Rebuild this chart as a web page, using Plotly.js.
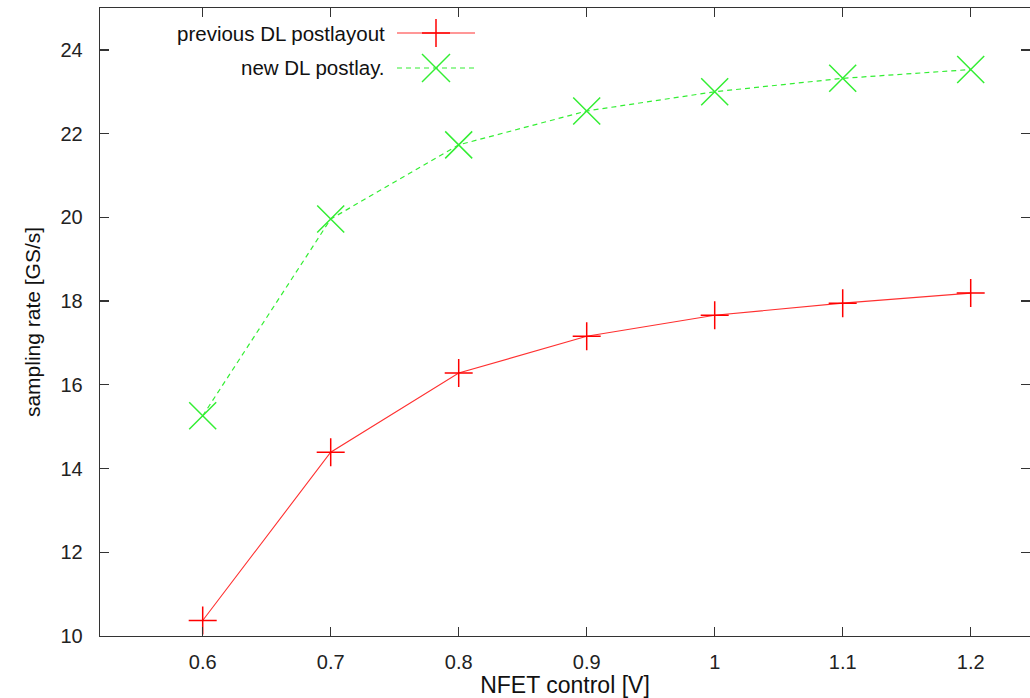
<!DOCTYPE html>
<html>
<head>
<meta charset="utf-8">
<script src="https://cdn.plot.ly/plotly-3.0.1.min.js"></script>
<style>
  html, body { margin: 0; padding: 0; overflow: hidden; background: #fff; }
  #chart { width: 1030px; height: 698px; }
</style>
</head>
<body>
<div id="chart"></div>
<script>
// ---- data ----
const nfetControl = [0.6, 0.7, 0.8, 0.9, 1.0, 1.1, 1.2];
const previousDL = [10.37, 14.39, 16.28, 17.16, 17.66, 17.95, 18.19];
const newDL = [15.26, 19.96, 21.73, 22.54, 23.0, 23.32, 23.53];
const seriesNames = ["previous DL postlayout", "new DL postlay."];
const xTickVals = [0.6, 0.7, 0.8, 0.9, 1.0, 1.1, 1.2];
const xTickText = ["0.6", "0.7", "0.8", "0.9", "1", "1.1", "1.2"];
const yTickVals = [10, 12, 14, 16, 18, 20, 22, 24];

const RED = "#ff0000";
const RED_LINE = "#ff3030";
const GREEN = "#33ee33";
const FONT = "Liberation Sans, Arial, sans-serif";

const traces = [
  {
    x: nfetControl, y: previousDL, name: seriesNames[0], type: "scatter", mode: "lines+markers",
    line: { color: RED_LINE, width: 1.1 },
    marker: { symbol: "cross-thin", size: 20, color: RED, line: { color: RED, width: 1.5 } },
    showlegend: false
  },
  {
    x: nfetControl, y: newDL, name: seriesNames[1], type: "scatter", mode: "lines+markers",
    line: { color: GREEN, width: 1.2, dash: "5px,4px" },
    marker: { symbol: "x-thin", size: 27, color: GREEN, line: { color: GREEN, width: 1.5 } },
    showlegend: false
  }
];

// plot area geometry (px) used for the hand-drawn legend keys
const L = 100, T = 8, B = 62, W = 1030, H = 698;
const pw = W - L, ph = H - T - B;
const px = v => (v - L) / pw;
const py = v => (H - B - v) / ph;

const legendRows = [
  { text: seriesNames[0], y: 33, color: RED, lineColor: RED_LINE, dash: "solid", kind: "cross" },
  { text: seriesNames[1], y: 68, color: GREEN, lineColor: GREEN, dash: "dash", kind: "x" }
];
const annotations = [];
const shapes = [];
legendRows.forEach(r => {
  annotations.push({
    xref: "paper", yref: "paper", x: px(387), y: py(r.y), xanchor: "right", yanchor: "middle",
    text: r.text, showarrow: false, font: { family: FONT, size: 20.5, color: "#111" }
  });
  shapes.push({
    type: "line", xref: "paper", yref: "paper", x0: px(397), x1: px(475), y0: py(r.y), y1: py(r.y),
    line: { color: r.lineColor, width: 1.2, dash: r.dash === "dash" ? "5px,4px" : "solid" }
  });
  const cx = 436, h = 14;
  if (r.kind === "cross") {
    shapes.push({ type: "line", xref: "paper", yref: "paper", x0: px(cx), x1: px(cx), y0: py(r.y - h), y1: py(r.y + h), line: { color: r.color, width: 1.5 } });
    shapes.push({ type: "line", xref: "paper", yref: "paper", x0: px(cx - h), x1: px(cx + h), y0: py(r.y), y1: py(r.y), line: { color: r.color, width: 1.5 } });
  } else {
    shapes.push({ type: "line", xref: "paper", yref: "paper", x0: px(cx - h), x1: px(cx + h), y0: py(r.y - h), y1: py(r.y + h), line: { color: r.color, width: 1.5 } });
    shapes.push({ type: "line", xref: "paper", yref: "paper", x0: px(cx - h), x1: px(cx + h), y0: py(r.y + h), y1: py(r.y - h), line: { color: r.color, width: 1.5 } });
  }
});

const layout = {
  width: W, height: H,
  margin: { l: L, r: 0, t: T, b: B, pad: 0 },
  paper_bgcolor: "#fff", plot_bgcolor: "#fff",
  font: { family: FONT, size: 18, color: "#222" },
  showlegend: false,
  xaxis: {
    range: [0.6 - 102.7 / 1280, 1.2 + 59.3 / 1280],
    tickvals: xTickVals, ticktext: xTickText,
    ticks: "inside", ticklen: 9, tickwidth: 1.3, tickcolor: "#333",
    showline: true, linecolor: "#333", linewidth: 1.3, mirror: "allticks",
    showgrid: false, zeroline: false,
    ticklabelstandoff: 8,
    tickfont: { family: FONT, size: 20, color: "#222" },
    title: { text: "NFET control [V]", font: { family: FONT, size: 23, color: "#111" }, standoff: 4 }
  },
  yaxis: {
    range: [10, 25],
    tickvals: yTickVals,
    ticks: "inside", ticklen: 9, tickwidth: 1.3, tickcolor: "#333",
    showline: true, linecolor: "#333", linewidth: 1.3, mirror: "allticks",
    showgrid: false, zeroline: false,
    ticklabelstandoff: 12,
    tickfont: { family: FONT, size: 20, color: "#222" },
    title: { text: "sampling rate [GS/s]", font: { family: FONT, size: 21, color: "#111" }, standoff: 14 }
  },
  annotations: annotations,
  shapes: shapes
};

Plotly.newPlot("chart", traces, layout, { displayModeBar: false, staticPlot: true });
</script>
</body>
</html>
